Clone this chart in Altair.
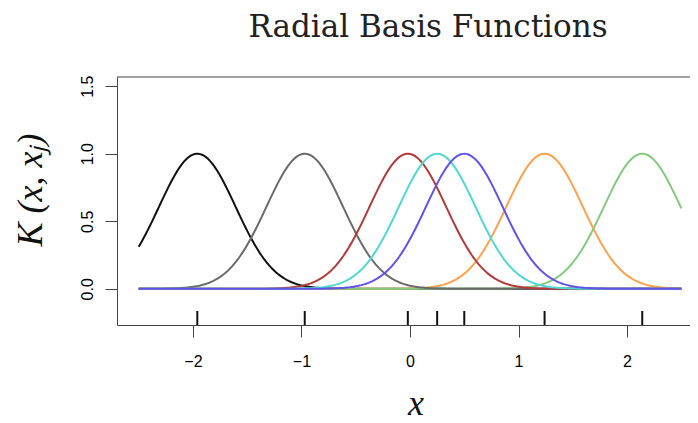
import altair as alt
import numpy as np
import pandas as pd

# ---- values ----
centers = [-1.96, -0.97, -0.02, 0.25, 0.50, 1.24, 2.14]
colors = ["#111111", "#6b6b6b", "#b23a3a", "#4fd8d2", "#6352e8", "#ffa04c", "#84c97f"]
draw_order = [0, 5, 6, 1, 2, 3, 4]
bandwidth = 4.0            # K(x, xj) = exp(-bandwidth * (x - xj)^2)
x_range = [-2.5, 2.5]
x_ticks = [-2, -1, 0, 1, 2]
y_ticks = [0.0, 0.5, 1.0, 1.5]
title_text = "Radial Basis Functions"
x_title = "x"
y_title = "K (x, xⱼ)"

# ---- layout ----
W, H = 573, 248
xdom = [-2.7, 2.58]
ydom = [-0.268, 1.568]

xs = alt.Scale(domain=xdom, nice=False, zero=False)
ys = alt.Scale(domain=ydom, nice=False, zero=False)

xgrid = np.linspace(x_range[0], x_range[1], 301)

x_axis = alt.Axis(values=x_ticks, format="d", title=None, tickSize=12,
                  labelPadding=16, labelFontSize=16, labelFont="Liberation Sans",
                  labelColor="black", domainColor="#444", tickColor="#444",
                  grid=False, labelBaseline="top")
y_axis = alt.Axis(values=y_ticks, format=".1f", title=None, tickSize=12,
                  labelPadding=13, labelFontSize=16, labelFont="Liberation Sans",
                  labelColor="black", domainColor="#444", tickColor="#444",
                  grid=False, labelAngle=270, labelAlign="center",
                  labelBaseline="alphabetic")

rows = []
for rank, j in enumerate(draw_order):
    c = centers[j]
    for xv, kv in zip(xgrid, np.exp(-bandwidth * (xgrid - c) ** 2)):
        rows.append({"x": xv, "k": kv, "rank": rank})
curves_df = pd.DataFrame(rows)

layers = []
for rank, j in enumerate(draw_order):
    layers.append(
        alt.Chart(curves_df).transform_filter(alt.datum.rank == rank)
        .mark_line(color=colors[j], strokeWidth=2).encode(
            x=alt.X("x:Q", scale=xs, axis=x_axis),
            y=alt.Y("k:Q", scale=ys, axis=y_axis),
        )
    )

rug = alt.Chart(pd.DataFrame({"x": centers})).mark_rule(
    color="#111111", strokeWidth=2
).encode(x=alt.X("x:Q", scale=xs, axis=x_axis), y=alt.value(H), y2=alt.value(H - 14))

top_line = alt.Chart(pd.DataFrame({"a": [0]})).mark_rule(
    color="#444444", strokeWidth=1
).encode(x=alt.value(0), x2=alt.value(W), y=alt.value(0))

one = pd.DataFrame({"a": [0]})
title = alt.Chart(one).mark_text(
    text=title_text, font="DejaVu Serif", fontSize=31, color="#222222",
    align="center", baseline="alphabetic"
).encode(x=alt.value(311), y=alt.value(-40))

xlab = alt.Chart(one).mark_text(
    text=x_title, font="Liberation Serif", fontStyle="italic", fontSize=36,
    color="#111111", align="center", baseline="alphabetic"
).encode(x=alt.value(299), y=alt.value(338))

ylab = alt.Chart(one).mark_text(
    text=y_title, font="Liberation Serif", fontStyle="italic", fontSize=36,
    color="#111111", align="center", baseline="alphabetic", angle=270
).encode(x=alt.value(-75), y=alt.value(113))

chart = alt.layer(*layers, rug, top_line, title, xlab, ylab).properties(
    width=W, height=H,
    autosize=alt.AutoSizeParams(type="none"),
    padding={"left": 109, "top": 69, "right": 0, "bottom": 98},
).configure_view(stroke=None)

chart.save("out.html", embed_options={"renderer": "svg", "actions": False})
